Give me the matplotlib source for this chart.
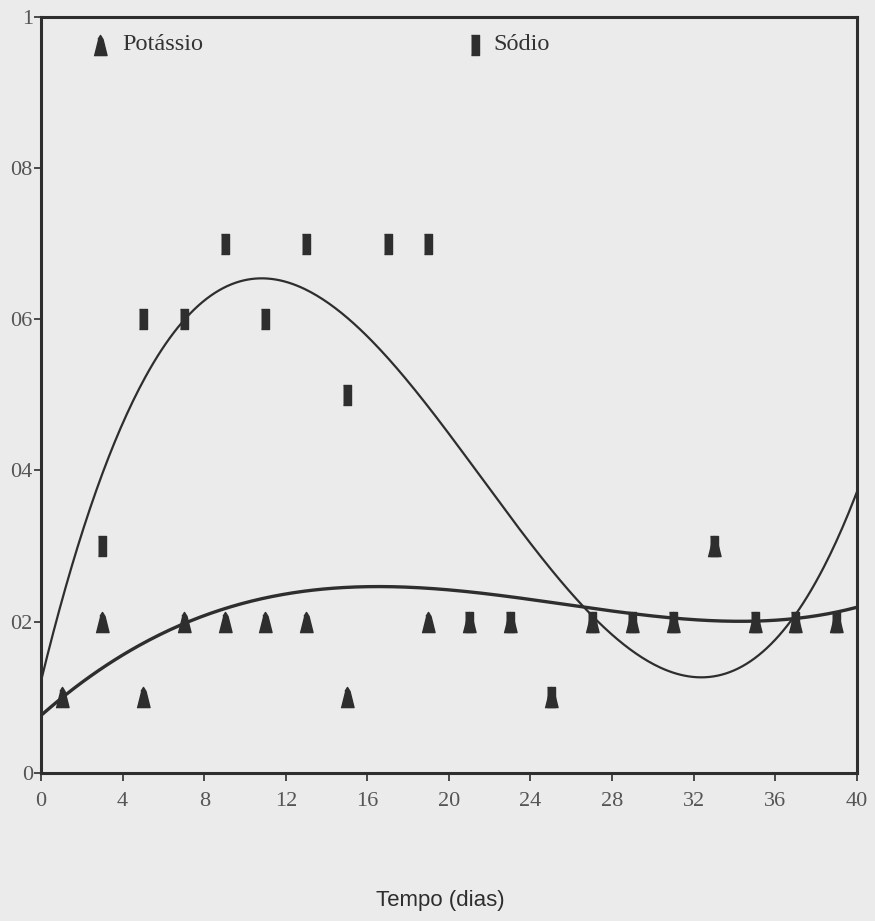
import numpy as np
import matplotlib
matplotlib.use("Agg")
import matplotlib.pyplot as plt

# measured points (odd days)
k_days = [1, 3, 5, 7, 9, 11, 13, 15, 19, 21, 23, 25, 27, 29, 31, 33, 35, 37, 39]
k_vals = [0.1, 0.2, 0.1, 0.2, 0.2, 0.2, 0.2, 0.1, 0.2, 0.2, 0.2, 0.1, 0.2, 0.2, 0.2, 0.3, 0.2, 0.2, 0.2]

na_days = [3, 5, 7, 9, 11, 13, 15, 17, 19, 21, 23, 25, 27, 29, 31, 33, 35, 37, 39]
na_vals = [0.3, 0.6, 0.6, 0.7, 0.6, 0.7, 0.5, 0.7, 0.7, 0.2, 0.2, 0.1, 0.2, 0.2, 0.2, 0.3, 0.2, 0.2, 0.2]

# potassium trend line
k_trend_days = [0, 1, 3, 5, 7, 9, 11, 13, 16, 18.5, 20, 22.5, 25, 27, 30, 33, 36.5, 39, 40]
k_trend_vals = [0.077, 0.099, 0.136, 0.173, 0.195, 0.216, 0.233, 0.243, 0.246, 0.245, 0.241,
                0.235, 0.225, 0.217, 0.206, 0.202, 0.205, 0.212, 0.218]

x_ticks = [0, 4, 8, 12, 16, 20, 24, 28, 32, 36, 40]
y_ticks = [0, 0.2, 0.4, 0.6, 0.8, 1.0]
y_labels = ["0", "02", "04", "06", "08", "1"]

INK = "#2e2e2e"
BG = "#ebebeb"

tri = [(-0.65, -1), (0.65, -1), (0.25, 0.6), (0, 1), (-0.25, 0.6)]
rect = [(-0.45, -1), (0.45, -1), (0.45, 1), (-0.45, 1)]

fig = plt.figure(figsize=(8.75, 9.21), dpi=100, facecolor=BG)
ax = fig.add_axes([0.047, 0.161, 0.932, 0.8205])
ax.set_facecolor(BG)

xx = np.linspace(0, 40, 400)
na_fit = np.polyfit(na_days, na_vals, 3)
k_fit = np.polyfit(k_trend_days, k_trend_vals, 4)
ax.plot(xx, np.polyval(na_fit, xx), color=INK, lw=1.6)
ax.plot(xx, np.polyval(k_fit, xx), color=INK, lw=2.4)

ax.plot(na_days, na_vals, ls="none", marker=rect, ms=14, color=INK, mec=INK)
ax.plot(k_days, k_vals, ls="none", marker=tri, ms=14.5, color=INK, mec=INK)

ax.set_xlim(0, 40)
ax.set_ylim(0, 1)
ax.set_xticks(x_ticks)
ax.set_yticks(y_ticks)
ax.set_yticklabels(y_labels)
for s in ax.spines.values():
    s.set_color(INK)
    s.set_linewidth(2.2)
ax.tick_params(direction="out", length=6, width=1.2, color=INK, labelcolor="#555555",
               labelsize=16)
for lab in ax.get_xticklabels() + ax.get_yticklabels():
    lab.set_family("Liberation Serif")
ax.tick_params(axis="y", pad=1, length=5)
ax.tick_params(axis="x", pad=8)

fig.text(440 / 875, 1 - 900 / 921, "Tempo (dias)", family="Liberation Sans", fontsize=16,
         color=INK, ha="center", va="center")

# legend entries drawn inside the axes
ax.plot([2.9], [0.963], ls="none", marker=tri, ms=14.5, color=INK)
ax.text(4.0, 0.963, "Potássio", family="Liberation Serif", fontsize=17.5, color="#333333",
        va="center")
ax.plot([21.3], [0.963], ls="none", marker=rect, ms=14, color=INK)
ax.text(22.2, 0.963, "Sódio", family="Liberation Serif", fontsize=17.5, color="#333333",
        va="center")

fig.savefig("out.png", dpi=100, facecolor=BG)
